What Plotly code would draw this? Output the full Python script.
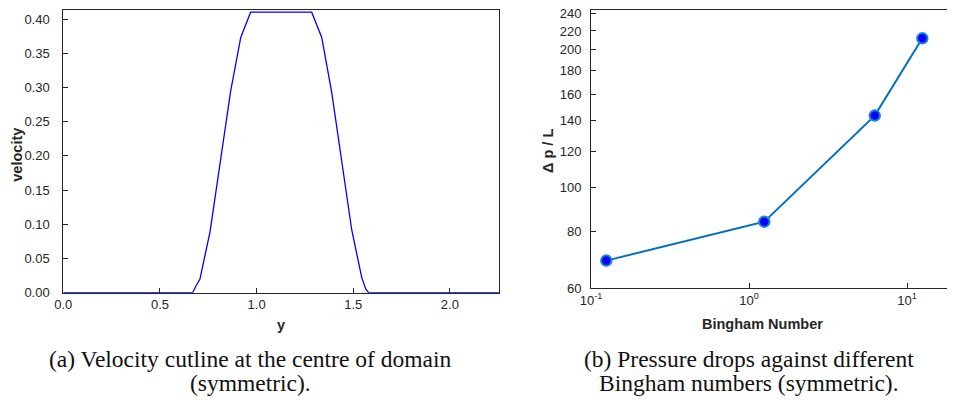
import plotly.graph_objects as go

# ---- data (a): velocity cutline ----
y_pos = [0.0, 0.669, 0.685, 0.707, 0.759, 0.810, 0.866, 0.918, 0.969,
         1.285, 1.337, 1.389, 1.440, 1.492, 1.544, 1.565, 1.580, 2.26]
velocity = [0.0, 0.0, 0.009, 0.020, 0.089, 0.190, 0.295, 0.373, 0.410,
            0.410, 0.373, 0.292, 0.195, 0.092, 0.022, 0.005, 0.0, 0.0]

# ---- data (b): pressure drop vs Bingham number ----
bingham = [0.125, 1.25, 6.25, 12.5]
dp_over_L = [69.0, 84.0, 143.5, 212.0]

left_ticks = [0.0, 0.05, 0.10, 0.15, 0.20, 0.25, 0.30, 0.35, 0.40]
left_xticks = [0.0, 0.5, 1.0, 1.5, 2.0]
right_yticks = [60, 80, 100, 120, 140, 160, 180, 200, 220, 240]
right_xticks = [0.1, 1, 10]
right_xtext = ["10<sup>-1</sup>", "10<sup>0</sup>", "10<sup>1</sup>"]

# page body has an 8px margin: figure is 947x392 placed at (8, 8)
OFF = 8
W, H = 955 - OFF, 400 - OFF
def px(x): return min(1.0, max(0.0, (x - OFF) / W))
def py(y): return min(1.0, max(0.0, 1 - (y - OFF) / H))

# left panel: bottom at 292.7px (=0), 0.4 per 273.7px
L_TOP = 9.5
l_ytop = (292.7 - L_TOP) / 273.7 * 0.4
# right panel: bottom 288.3px (=60), 456px per decade; x: 158px per decade from 591px
R_TOP = 9.5
r_ytop = 1.778151 + (288.3 - R_TOP) / 456.0
R_RIGHT = 953
r_xright = -1 + (R_RIGHT - 591) / 158.0

AX = "#262626"
TICKFONT = dict(family="Liberation Sans, Arial, sans-serif", size=13, color=AX)
TITLEFONT = dict(family="Liberation Sans, Arial, sans-serif", size=14.5, color=AX)
CAPFONT = dict(family="Liberation Serif, Times New Roman, serif", size=23.5, color="#111111")

fig = go.Figure()
fig.add_trace(go.Scatter(x=y_pos, y=velocity, mode="lines",
                         line=dict(color="#0000FF", width=1.3),
                         xaxis="x", yaxis="y", showlegend=False))
fig.add_trace(go.Scatter(x=bingham, y=dp_over_L, mode="lines+markers",
                         line=dict(color="#0072BD", width=2),
                         marker=dict(color="#0000FF", size=10.5,
                                     line=dict(color="#1A86D0", width=2)),
                         xaxis="x2", yaxis="y2", showlegend=False))

common = dict(showline=True, linecolor=AX, linewidth=1, mirror=True,
              ticks="inside", ticklen=5, tickcolor=AX, tickwidth=1,
              showgrid=False, zeroline=False, tickfont=TICKFONT, automargin=False,
              ticklabeloverflow="allow")

fig.update_layout(
    width=W, height=H, margin=dict(l=0, r=0, t=0, b=0, pad=0, autoexpand=False),
    paper_bgcolor="white", plot_bgcolor="white",
    xaxis=dict(domain=[px(63.3), px(499)], range=[0, 2.254],
               tickvals=left_xticks, ticktext=["0.0", "0.5", "1.0", "1.5", "2.0"],
               anchor="y", **common),
    yaxis=dict(domain=[py(292.7), py(L_TOP)], range=[0, l_ytop],
               tickvals=left_ticks, ticktext=[f"{v:.2f}" for v in left_ticks],
               anchor="x", ticklabelstandoff=10, **common),
    xaxis2=dict(domain=[px(591), px(R_RIGHT)], type="log", range=[-1, r_xright],
                tickvals=right_xticks, ticktext=right_xtext, anchor="y2", **common),
    yaxis2=dict(domain=[py(288.3), py(R_TOP)], type="log",
                range=[1.778151, r_ytop], tickvals=right_yticks,
                ticktext=[str(v) for v in right_yticks], anchor="x2",
                ticklabelstandoff=6, **common),
)

ann = [
    dict(x=px(16.7), y=py(155), text="<b>velocity</b>", textangle=-90, font=TITLEFONT),
    dict(x=px(281), y=py(325), text="<b>y</b>", font=TITLEFONT),
    dict(x=px(548), y=py(151), text="<b>Δ p / L</b>", textangle=-90, font=TITLEFONT),
    dict(x=px(762), y=py(324), text="<b>Bingham Number</b>", font=TITLEFONT),
    dict(x=px(250), y=py(359), text="(a) Velocity cutline at the centre of domain", font=CAPFONT),
    dict(x=px(250), y=py(383), text="(symmetric).", font=CAPFONT),
    dict(x=px(749), y=py(359), text="(b) Pressure drops against different", font=CAPFONT),
    dict(x=px(749), y=py(383), text="Bingham numbers (symmetric).", font=CAPFONT),
]
for a in ann:
    a.update(xref="paper", yref="paper", showarrow=False, xanchor="center", yanchor="middle")
fig.update_layout(annotations=ann)

fig.write_html("out.html")
